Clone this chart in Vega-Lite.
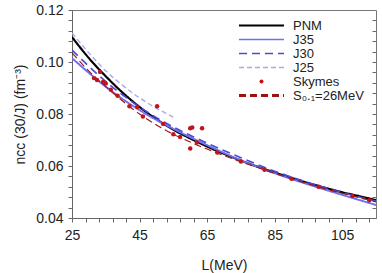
{
  "$schema": "https://vega.github.io/schema/vega-lite/v6.json",
  "width": 304,
  "height": 208,
  "autosize": "none",
  "padding": {"left": 72, "top": 10, "right": 6, "bottom": 55},
  "background": "white",
  "config": {
    "font": "Liberation Sans",
    "view": {"stroke": "#777", "strokeWidth": 1},
    "axis": {"grid": false, "domainColor": "#666", "tickColor": "#666", "labelColor": "#222", "titleColor": "#222", "labelFontSize": 14, "titleFontSize": 14, "titleFontWeight": "normal", "labelFont": "Liberation Sans", "titleFont": "Liberation Sans", "labelOverlap": false},
    "axisX": {"labelOverlap": false}
  },
  "datasets": {
    "curves": [
      {"series": "PNM", "L": 25, "v": 0.1096}, {"series": "PNM", "L": 30, "v": 0.1015}, {"series": "PNM", "L": 35, "v": 0.0945}, {"series": "PNM", "L": 40, "v": 0.0882}, {"series": "PNM", "L": 45, "v": 0.0827}, {"series": "PNM", "L": 50, "v": 0.0780}, {"series": "PNM", "L": 55, "v": 0.0740}, {"series": "PNM", "L": 60, "v": 0.0706}, {"series": "PNM", "L": 65, "v": 0.0675}, {"series": "PNM", "L": 70, "v": 0.0647}, {"series": "PNM", "L": 75, "v": 0.0621}, {"series": "PNM", "L": 80, "v": 0.0597}, {"series": "PNM", "L": 85, "v": 0.0575}, {"series": "PNM", "L": 90, "v": 0.0554}, {"series": "PNM", "L": 95, "v": 0.0534}, {"series": "PNM", "L": 100, "v": 0.0516}, {"series": "PNM", "L": 105, "v": 0.0499}, {"series": "PNM", "L": 110, "v": 0.0484}, {"series": "PNM", "L": 115, "v": 0.0469},
      {"series": "J35", "L": 25, "v": 0.1015}, {"series": "J35", "L": 35, "v": 0.0905}, {"series": "J35", "L": 45, "v": 0.0815}, {"series": "J35", "L": 55, "v": 0.0743}, {"series": "J35", "L": 65, "v": 0.0680}, {"series": "J35", "L": 75, "v": 0.0622}, {"series": "J35", "L": 85, "v": 0.0572}, {"series": "J35", "L": 95, "v": 0.0529}, {"series": "J35", "L": 105, "v": 0.0489}, {"series": "J35", "L": 115, "v": 0.0450},
      {"series": "J30", "L": 25, "v": 0.1046}, {"series": "J30", "L": 35, "v": 0.0925}, {"series": "J30", "L": 45, "v": 0.0827}, {"series": "J30", "L": 55, "v": 0.0750}, {"series": "J30", "L": 65, "v": 0.0688}, {"series": "J30", "L": 75, "v": 0.0632}, {"series": "J30", "L": 85, "v": 0.0580}, {"series": "J30", "L": 95, "v": 0.0536}, {"series": "J30", "L": 105, "v": 0.0498}, {"series": "J30", "L": 115, "v": 0.0465},
      {"series": "J25", "L": 25, "v": 0.1112}, {"series": "J25", "L": 30, "v": 0.1035}, {"series": "J25", "L": 35, "v": 0.0966}, {"series": "J25", "L": 40, "v": 0.0910}, {"series": "J25", "L": 45, "v": 0.0862}, {"series": "J25", "L": 50, "v": 0.0822}, {"series": "J25", "L": 55, "v": 0.0788},
      {"series": "S0.1=26MeV", "L": 25, "v": 0.1035}, {"series": "S0.1=26MeV", "L": 30, "v": 0.0965}, {"series": "S0.1=26MeV", "L": 35, "v": 0.0905}, {"series": "S0.1=26MeV", "L": 40, "v": 0.0850}, {"series": "S0.1=26MeV", "L": 45, "v": 0.0800}, {"series": "S0.1=26MeV", "L": 50, "v": 0.0758}, {"series": "S0.1=26MeV", "L": 55, "v": 0.0722}, {"series": "S0.1=26MeV", "L": 60, "v": 0.0692}, {"series": "S0.1=26MeV", "L": 65, "v": 0.0665}, {"series": "S0.1=26MeV", "L": 70, "v": 0.0640}, {"series": "S0.1=26MeV", "L": 75, "v": 0.0616}, {"series": "S0.1=26MeV", "L": 80, "v": 0.0594}, {"series": "S0.1=26MeV", "L": 85, "v": 0.0572}, {"series": "S0.1=26MeV", "L": 90, "v": 0.0551}, {"series": "S0.1=26MeV", "L": 95, "v": 0.0531}, {"series": "S0.1=26MeV", "L": 100, "v": 0.0512}, {"series": "S0.1=26MeV", "L": 105, "v": 0.0495}, {"series": "S0.1=26MeV", "L": 110, "v": 0.0478}, {"series": "S0.1=26MeV", "L": 115, "v": 0.0462}
    ],
    "skyrmes": [
      {"L": 31.5, "v": 0.0938}, {"L": 32.4, "v": 0.0931}, {"L": 33.3, "v": 0.0962}, {"L": 34.2, "v": 0.0923}, {"L": 35.0, "v": 0.0917},
      {"L": 36.5, "v": 0.0893}, {"L": 38.5, "v": 0.0870}, {"L": 42.0, "v": 0.0830}, {"L": 44.3, "v": 0.0827}, {"L": 46.0, "v": 0.0790},
      {"L": 50.2, "v": 0.0830}, {"L": 52.0, "v": 0.0762}, {"L": 55.0, "v": 0.0722}, {"L": 57.0, "v": 0.0712}, {"L": 60.0, "v": 0.0745},
      {"L": 60.6, "v": 0.0748}, {"L": 63.5, "v": 0.0745}, {"L": 60.0, "v": 0.0667}, {"L": 62.0, "v": 0.0690}, {"L": 68.0, "v": 0.0652},
      {"L": 75.0, "v": 0.0617}, {"L": 82.0, "v": 0.0586}, {"L": 90.0, "v": 0.0551}, {"L": 98.0, "v": 0.0520}, {"L": 108.0, "v": 0.0485}, {"L": 113.0, "v": 0.0468}
    ]
  },
  "resolve": {"axis": {"y": "independent"}},
  "layer": [
    {
      "data": {"name": "curves"},
      "mark": {"type": "line", "interpolate": "monotone", "clip": true},
      "encoding": {
        "x": {"field": "L", "type": "quantitative", "scale": {"domain": [25, 115], "nice": false, "zero": false},
          "axis": {"title": "L(MeV)", "values": [25, 29, 33, 37, 41, 45, 49, 53, 57, 61, 65, 69, 73, 77, 81, 85, 89, 93, 97, 101, 105, 109, 113], "labelExpr": "indexof([25, 45, 65, 85, 105], datum.value) >= 0 ? datum.label : ''", "labelOverlap": false, "tickSize": 4, "labelPadding": 6, "titlePadding": 16, "labelFlush": false}},
        "y": {"field": "v", "type": "quantitative", "scale": {"domain": [0.04, 0.12], "nice": false, "zero": false},
          "axis": {"title": "ncc (30/J) (fm⁻³)", "values": [0.04, 0.044, 0.048, 0.052, 0.056, 0.06, 0.064, 0.068, 0.072, 0.076, 0.08, 0.084, 0.088, 0.092, 0.096, 0.1, 0.104, 0.108, 0.112, 0.116, 0.12], "labelExpr": "round(datum.value * 1000) % 20 === 0 ? format(datum.value, '.2f') : ''", "tickSize": 4, "labelPadding": 5, "titlePadding": 8, "labelFlush": false}},
        "color": {"field": "series", "type": "nominal",
          "scale": {"domain": ["PNM", "J35", "J30", "J25", "Skymes", "S0.1=26MeV"], "range": ["#000000", "#6f6ff0", "#4b4bd8", "#a9a9f2", "#c0141c", "#9c1212"]},
          "legend": {"title": null, "orient": "none", "legendX": 183, "legendY": 9, "symbolSize": 2025, "symbolType": "stroke", "labelFontSize": 13, "labelColor": "#222", "labelFont": "Liberation Sans", "labelOffset": 25, "rowPadding": 0, "padding": 0,
            "labelExpr": "datum.label === 'S0.1=26MeV' ? 'S₀.₁=26MeV' : datum.label",
            "encode": {"symbols": {"update": {
              "shape": {"signal": "datum.value === 'Skymes' ? 'circle' : 'stroke'"},
              "size": {"signal": "datum.value === 'Skymes' ? 16 : 2025"},
              "fill": {"signal": "datum.value === 'Skymes' ? '#c0141c' : 'transparent'"},
              "stroke": {"signal": "datum.value === 'PNM' ? '#000000' : datum.value === 'J35' ? '#6f6ff0' : datum.value === 'J30' ? '#4b4bd8' : datum.value === 'J25' ? '#a9a9f2' : datum.value === 'Skymes' ? '#c0141c' : '#9c1212'"},
              "opacity": {"value": 1},
              "strokeOpacity": {"value": 1},
              "strokeWidth": {"signal": "datum.value === 'PNM' ? 2.2 : datum.value === 'S0.1=26MeV' ? 3 : datum.value === 'Skymes' ? 0 : 1.4"},
              "strokeDash": {"signal": "datum.value === 'J30' ? [8, 5] : datum.value === 'J25' ? [5, 3] : datum.value === 'S0.1=26MeV' ? [7, 4] : [1, 0]"}
            }}}}},
        "strokeDash": {"field": "series", "type": "nominal", "scale": {"domain": ["PNM", "J35", "J30", "J25", "S0.1=26MeV"], "range": [[1, 0], [1, 0], [8, 5], [5, 3], [7, 4]]}, "legend": null},
        "strokeWidth": {"field": "series", "type": "nominal", "scale": {"domain": ["PNM", "J35", "J30", "J25", "S0.1=26MeV"], "range": [2.2, 1.1, 1.1, 1.1, 3]}, "legend": null},
        "order": {"field": "L", "type": "quantitative"}
      }
    },
    {
      "data": {"name": "skyrmes"},
      "mark": {"type": "point", "filled": true, "size": 20, "color": "#c0141c", "opacity": 1},
      "encoding": {
        "x": {"field": "L", "type": "quantitative",
          "axis": {"title": "L(MeV)", "values": [25, 29, 33, 37, 41, 45, 49, 53, 57, 61, 65, 69, 73, 77, 81, 85, 89, 93, 97, 101, 105, 109, 113], "labelExpr": "indexof([25, 45, 65, 85, 105], datum.value) >= 0 ? datum.label : ''", "labelOverlap": false, "tickSize": 4, "labelPadding": 6, "titlePadding": 16, "labelFlush": false}},
        "y": {"field": "v", "type": "quantitative",
          "axis": {"orient": "right", "title": null, "labels": false, "domain": false, "tickSize": -4, "values": [0.044, 0.048, 0.052, 0.056, 0.06, 0.064, 0.068, 0.072, 0.076, 0.08, 0.084, 0.088, 0.092, 0.096, 0.1, 0.104, 0.108, 0.112, 0.116]}}
      }
    }
  ]
}
